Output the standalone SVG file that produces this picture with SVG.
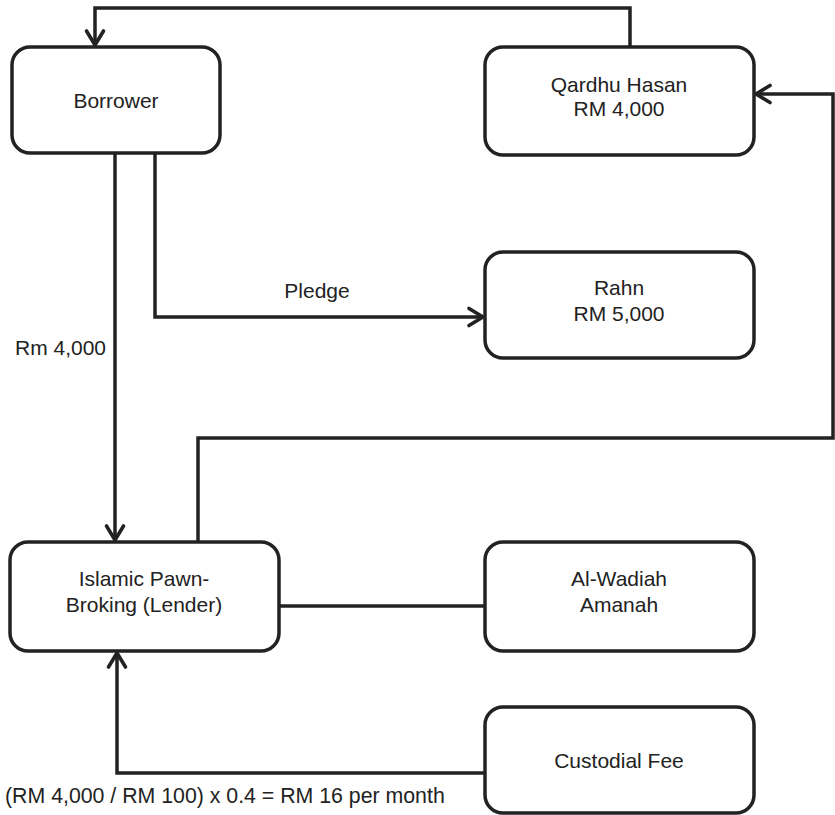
<svg xmlns="http://www.w3.org/2000/svg" width="835" height="815" viewBox="0 0 835 815">
  <style>
    .box { fill: #fff; stroke: #222; stroke-width: 3.5; }
    .wire { fill: none; stroke: #222; stroke-width: 3.5; stroke-linejoin: miter; }
    text { font-family: "Liberation Sans", Arial, sans-serif; font-size: 21px; fill: #222; }
    .c { text-anchor: middle; }
  </style>
  <defs>
    <marker id="arrow" markerUnits="userSpaceOnUse" markerWidth="30" markerHeight="30" viewBox="-18 -15 22 30" refX="0" refY="0" orient="auto">
      <path d="M-14,-8.5 L0,0 L-14,8.5" fill="none" stroke="#222" stroke-width="3.6" stroke-linecap="round" stroke-linejoin="round"/>
    </marker>
  </defs>
  <rect width="835" height="815" fill="#fff"/>

  <g id="connectors">
    <!-- Qardhu Hasan back to Borrower -->
    <path class="wire" d="M630,47 V8 H95 V45" marker-end="url(#arrow)"/>
    <!-- Lender loop into Qardhu Hasan -->
    <path class="wire" d="M198,542 V438 H833 V94 H756" marker-end="url(#arrow)"/>
    <!-- Borrower down to Lender -->
    <path class="wire" d="M115,153 V540" marker-end="url(#arrow)"/>
    <!-- Pledge to Rahn -->
    <path class="wire" d="M155,153 V317 H483" marker-end="url(#arrow)"/>
    <!-- Lender to Al-Wadiah -->
    <path class="wire" d="M279,606 H485"/>
    <!-- Custodial fee back to Lender -->
    <path class="wire" d="M485,773 H117 V653" marker-end="url(#arrow)"/>
    <text class="c" x="317" y="298">Pledge</text>
    <text x="15" y="355">Rm 4,000</text>
    <text x="5" y="803" style="font-size:21.3px">(RM 4,000 / RM 100) x 0.4 = RM 16 per month</text>
  </g>

  <g id="borrower">
    <rect class="box" x="12" y="47" width="208" height="106" rx="18"/>
    <text class="c" x="116" y="108">Borrower</text>
  </g>
  <g id="qardhu-hasan">
    <rect class="box" x="485" y="47" width="269" height="108" rx="18"/>
    <text class="c" x="619" y="92">Qardhu Hasan</text>
    <text class="c" x="619" y="116">RM 4,000</text>
  </g>
  <g id="rahn">
    <rect class="box" x="485" y="252" width="269" height="106" rx="18"/>
    <text class="c" x="619" y="295">Rahn</text>
    <text class="c" x="619" y="321">RM 5,000</text>
  </g>
  <g id="lender">
    <rect class="box" x="10" y="542" width="269" height="109" rx="18"/>
    <text class="c" x="144" y="586">Islamic Pawn-</text>
    <text class="c" x="144" y="612">Broking (Lender)</text>
  </g>
  <g id="al-wadiah">
    <rect class="box" x="485" y="542" width="269" height="109" rx="18"/>
    <text class="c" x="619" y="586">Al-Wadiah</text>
    <text class="c" x="619" y="612">Amanah</text>
  </g>
  <g id="custodial-fee">
    <rect class="box" x="485" y="707" width="269" height="106" rx="18"/>
    <text class="c" x="619" y="768">Custodial Fee</text>
  </g>
</svg>
